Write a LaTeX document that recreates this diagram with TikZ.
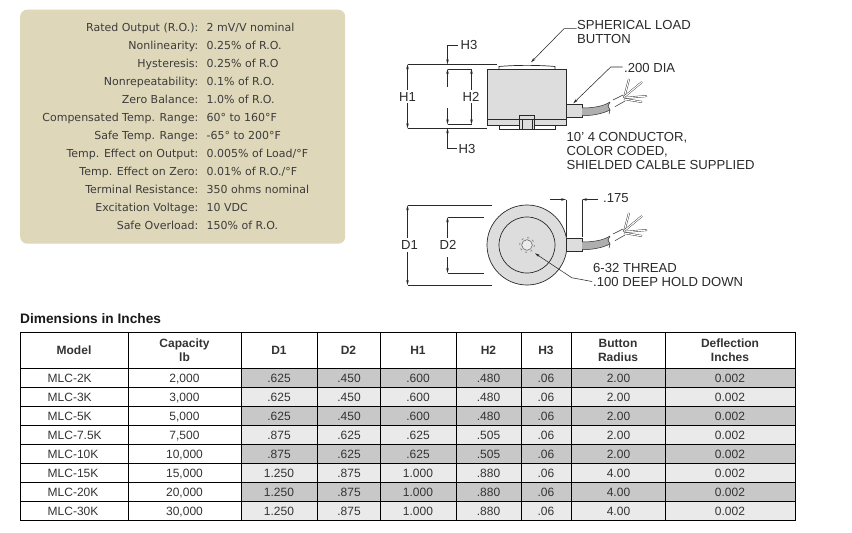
\documentclass[tikz,border=0pt]{standalone}
\usepackage{fontspec}
\setmainfont{Liberation Sans}
\newfontfamily\specfont{DejaVu Sans}
\usetikzlibrary{arrows.meta}
\definecolor{panelc}{HTML}{DED7B9}
\definecolor{darkrow}{HTML}{C8C8C8}
\definecolor{lightrow}{HTML}{EAEAEA}
\definecolor{bodyc}{HTML}{DDDDDD}
\definecolor{specc}{HTML}{3C3C3C}
\definecolor{cellc}{HTML}{333333}
\definecolor{inkc}{HTML}{2A2A2A}
\definecolor{cablec}{HTML}{AFAFAF}
\tikzset{
 x=1pt,y=-1pt,
 speclabel/.style={font=\specfont\fontsize{11}{13}\selectfont,text=specc,inner sep=0pt,anchor=base east},
 specvalue/.style={font=\specfont\fontsize{11}{13}\selectfont,text=specc,inner sep=0pt,anchor=base west},
 cell/.style={font=\fontsize{12}{14}\selectfont,text=cellc,inner sep=0pt,anchor=base},
 headcell/.style={font=\bfseries\fontsize{12}{14}\selectfont,text=black!80,inner sep=0pt,align=center},
 rule/.style={line width=.9pt,draw=black},
 callout/.style={font=\fontsize{13.1}{14.2}\selectfont,text=inkc,inner sep=0pt,anchor=base west},
 dimlabel/.style={font=\fontsize{13.1}{14}\selectfont,text=inkc,inner sep=0pt},
 dimline/.style={line width=.55pt,draw=inkc},
 dimarrow/.style={dimline,-{Stealth[length=5pt,width=2.6pt]}},
 outline/.style={line width=.7pt,draw=inkc},
 wirepair/.style={line width=.4pt,draw=inkc,double=white,double distance=1.1pt},
}
% cable with connector end at #1,#2
\newcommand{\cablewires}[2]{%
 \begin{scope}[shift={(#1,#2)}]
  \fill[cablec] (0,-3) .. controls (12,-3) and (22,-5) .. (28,-9) -- (26,-5) -- (28,-1) .. controls (20,3) and (10,4.7) .. (0,4.7) -- cycle;
  \draw[line width=.5pt,draw=inkc] (0,-3) .. controls (12,-3) and (22,-5) .. (28,-9);
  \draw[line width=.5pt,draw=inkc] (0,4.7) .. controls (10,4.7) and (20,3) .. (28,-1);
  \draw[line width=.5pt,draw=inkc] (28,-9) -- (26,-5) -- (28,-1) -- (27,3);
  \draw[line width=.5pt,draw=inkc] (31,-11) -- (41,-16);
  \draw[line width=.5pt,draw=inkc] (33,-4.3) -- (43,-10);
  \draw[wirepair] (42,-13) -- (47,-32);
  \draw[wirepair] (42,-14) -- (60,-29);
  \draw[wirepair] (42,-13) -- (65,-15);
  \draw[wirepair] (42,-12) -- (60,-9);
 \end{scope}}
\begin{document}
\begin{tikzpicture}
\useasboundingbox (0,0) rectangle (852,533);
\fill[white] (0,0) rectangle (852,533);
% spec panel
\node[fill=panelc,rounded corners=7pt,minimum width=325pt,minimum height=234pt,inner sep=0pt,anchor=north west] (panel) at (20,9.5) {};
\foreach \yy/\lab/\val in {
 31/{Rated Output (R.O.):}/{2 mV/V nominal},
 49/{Nonlinearity:}/{0.25\% of R.O.},
 67/{Hysteresis:}/{0.25\% of R.O},
 85/{Nonrepeatability:}/{0.1\% of R.O.},
 103/{Zero Balance:}/{1.0\% of R.O.},
 121/{Compensated Temp. Range:}/{60° to 160°F},
 139/{Safe Temp. Range:}/{-65° to 200°F},
 157/{Temp. Effect on Output:}/{0.005\% of Load/°F},
 175/{Temp. Effect on Zero:}/{0.01\% of R.O./°F},
 193/{Terminal Resistance:}/{350 ohms nominal},
 211/{Excitation Voltage:}/{10 VDC},
 229/{Safe Overload:}/{150\% of R.O.}}{
  \node[speclabel] (lab\yy) at (198.5,\yy) {\lab};
  \node[specvalue] (val\yy) at (206.5,\yy) {\val};
}
% title
\node[font=\bfseries\fontsize{13.7}{15}\selectfont,text=black!90,inner sep=0pt,anchor=base west] (title) at (20,323) {Dimensions in Inches};
% table shading
\foreach \top/\c in {368.5/darkrow,387.5/lightrow,406.5/darkrow,425.5/lightrow,444.5/darkrow,463.5/lightrow,482.5/darkrow,501.5/lightrow}{
  \fill[\c] (241,\top) rectangle (795,\top+19);
}
% table rules
\foreach \xx in {20.5,128,241,317,380,456,521,571,665,795}{\draw[rule] (\xx,332.5) -- (\xx,520.5);}
\foreach \yy in {332.5,368.5,387.5,406.5,425.5,444.5,463.5,482.5,501.5,520.5}{\draw[rule] (20,\yy) -- (795.5,\yy);}
% table head
\foreach \xx/\t in {74/Model,184.5/Capacity\\lb,279/D1,348.5/D2,418/H1,488.5/H2,546/H3,618/Button\\Radius,730/Deflection\\Inches}{
  \node[headcell] at (\xx,350.5) {\t};
}
% table body
\foreach \b/\m/\cp/\da/\db/\ha/\hb/\r in {
 382.5/MLC-2K/{2,000}/.625/.450/.600/.480/2.00,
 401.5/MLC-3K/{3,000}/.625/.450/.600/.480/2.00,
 420.5/MLC-5K/{5,000}/.625/.450/.600/.480/2.00,
 439.5/MLC-7.5K/{7,500}/.875/.625/.625/.505/2.00,
 458.5/MLC-10K/{10,000}/.875/.625/.625/.505/2.00,
 477.5/MLC-15K/{15,000}/1.250/.875/1.000/.880/4.00,
 496.5/MLC-20K/{20,000}/1.250/.875/1.000/.880/4.00,
 515.5/MLC-30K/{30,000}/1.250/.875/1.000/.880/4.00}{
  \node[cell,anchor=base west] at (47.5,\b) {\m};
  \node[cell] at (184.5,\b) {\cp};
  \node[cell] at (279,\b) {\da};
  \node[cell] at (349,\b) {\db};
  \node[cell] at (418,\b) {\ha};
  \node[cell] at (488.5,\b) {\hb};
  \node[cell] at (546,\b) {.06};
  \node[cell] at (618.5,\b) {\r};
  \node[cell] at (730,\b) {0.002};
}
% side view
\fill[bodyc] (487,69) rectangle (566.7,125.7);
\draw[outline] (487,69) rectangle (566.7,125.7);
\draw[outline] (487,119.7) -- (566.7,119.7);
\draw[outline] (499,69) -- (499,66.5) .. controls (515,65) and (539,65) .. (555,66.5) -- (555,69);
\draw[outline] (499,125.7) -- (499,129) -- (555,129) -- (555,125.7);
\fill[bodyc] (519.3,115) rectangle (534.7,129);
\draw[outline] (519.3,129) -- (519.3,115) -- (534.7,115) -- (534.7,129);
\draw[outline] (519.3,119.7) -- (534.7,119.7);
\draw[line width=.45pt,draw=inkc] (522,119.7) -- (522,129) (532,119.7) -- (532,129);
\draw[outline,fill=bodyc] (566.7,104.7) rectangle (582,117.3);
\cablewires{582}{111}
% side view dimensions
\coordinate (h1t) at (407.5,64.3); \coordinate (h1b) at (407.5,128.3);
\node[dimlabel] (H1) at (407.5,96.5) {H1};
\node[dimlabel] (H2) at (471,96.5) {H2};
\node[dimlabel,anchor=west] (H3a) at (460.5,45) {H3};
\node[dimlabel,anchor=west] (H3b) at (458.5,148.5) {H3};
\draw[dimline] (h1t) -- (497,64.3);
\draw[dimline] (h1b) -- (487,128.3);
\draw[dimline] (447.5,69) -- (472,69);
\draw[dimline] (447.5,124.3) -- (472,124.3);
\draw[dimarrow] (H1.north) ++(0,-2) -- (h1t);
\draw[dimarrow] (H1.south) ++(0,2) -- (h1b);
\draw[dimarrow] (H2.north) ++(.5,-2) -- (471.5,69);
\draw[dimarrow] (H2.south) ++(.5,2) -- (471.5,124.3);
\draw[dimarrow] (447.5,87) -- (447.5,69);
\draw[dimarrow] (447.5,108) -- (447.5,124.3);
\draw[dimarrow] (H3a.west) ++(-3,0) -- (447.5,45) -- (447.5,64.3);
\draw[dimarrow] (H3b.west) ++(-1.5,0) -- (447.5,148.5) -- (447.5,128.3);
% callouts side
\node[callout] (sph1) at (577,29) {SPHERICAL LOAD};
\node[callout] (sph2) at (577,43) {BUTTON};
\node[callout] (dia) at (624,72) {.200 DIA};
\node[callout] (c1) at (566.5,141.5) {10' 4 CONDUCTOR,};
\node[callout] (c2) at (566.5,155.5) {COLOR CODED,};
\node[callout] (c3) at (566.5,169.5) {SHIELDED CALBLE SUPPLIED};
\coordinate (sphtip) at (531,62.3);
\coordinate (diatip) at (573.3,103.3);
\draw[dimarrow] (sph1.base west) ++(-.5,-.3) -- (564,28.7) -- (sphtip);
\draw[dimarrow] (dia.base west) ++(-1.5,-5) -- (610.7,67) -- (diatip);
% top view
\fill[bodyc] (527,245) circle (40);
\draw[outline] (527,245) circle (40);
\draw[outline] (527,245) circle (28);
\fill[bodyc!60!white] (527,245) circle (5.3);
\draw[line width=.6pt,draw=inkc!70] (527,245) circle (5.3);
\draw[line width=.7pt,draw=inkc!60,dash pattern=on 2pt off 3.8pt] (527,245) circle (7.4);
\draw[outline,fill=bodyc] (566.7,238.7) rectangle (582,251.7);
\cablewires{582}{245}
\coordinate (d1t) at (407.5,205.3); \coordinate (d1b) at (407.5,285);
\coordinate (d2t) at (447.5,217.3); \coordinate (d2b) at (447.5,273);
\node[dimlabel] (D1) at (409.5,245) {D1};
\node[dimlabel] (D2) at (448,245) {D2};
\draw[dimline] (d1t) -- (492,205.3);
\draw[dimline] (d1b) -- (492,285);
\draw[dimline] (d2t) -- (484,217.3);
\draw[dimline] (d2b) -- (484,273);
\draw[dimarrow] (407.5,238) -- (d1t);
\draw[dimarrow] (407.5,252) -- (d1b);
\draw[dimarrow] (447.5,238) -- (d2t);
\draw[dimarrow] (447.5,257) -- (d2b);
\node[dimlabel,anchor=west] (t175) at (603,198.5) {.175};
\draw[dimline] (566,199.5) -- (566,237);
\draw[dimline] (582,199.5) -- (582,237);
\coordinate (al) at (550,199.5); \coordinate (ar) at (566,199.5);
\coordinate (bl) at (598,199.5); \coordinate (br) at (582,199.5);
\draw[dimarrow] (al) -- (ar);
\draw[dimarrow] (bl) -- (br);
\node[callout] (th1) at (593,272) {6-32 THREAD};
\node[callout] (th2) at (593,286.5) {.100 DEEP HOLD DOWN};
\coordinate (thtip) at (535,253.3);
\draw[dimarrow] (th2.base west) ++(-1,-5) -- (571.7,277.7) -- (thtip);
\end{tikzpicture}
\end{document}
